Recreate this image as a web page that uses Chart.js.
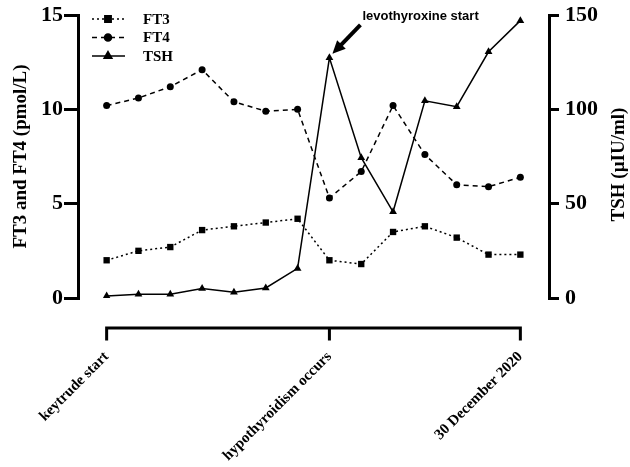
<!DOCTYPE html>
<html>
<head>
<meta charset="utf-8">
<script src="https://cdn.jsdelivr.net/npm/chart.js@4/dist/chart.umd.min.js"></script>
<style>
  body { margin: 0; background: #fff; }
  canvas { display: block; }
</style>
</head>
<body>
<canvas id="thyroidChart" width="630" height="467"></canvas>
<script>
// measurements over time (14 visits)
const ft3 = [2.0, 2.5, 2.7, 3.6, 3.8, 4.0, 4.2, 2.0, 1.8, 3.5, 3.8, 3.2, 2.3, 2.3];
const ft4 = [10.2, 10.6, 11.2, 12.1, 10.4, 9.9, 10.0, 5.3, 6.7, 10.2, 7.6, 6.0, 5.9, 6.4];
const tsh = [1, 2, 2, 5, 3, 5.3, 15.7, 127.3, 74.4, 45.7, 104.5, 101.4, 130.5, 147];

// which visits get a label on the time axis
const eventIndex = [0, 7, 13];
const eventLabels = ['keytrude start', 'hypothyroidism occurs', '30 December 2020'];
const leftTicks = [0, 5, 10, 15];
const rightTicks = [0, 50, 100, 150];
const annotationIndex = 7;
const annotationText = 'levothyroxine start';

const serif = '"Liberation Serif", "Times New Roman", serif';
const sans = '"Liberation Sans", Arial, sans-serif';

function toPoints(arr) {
    return arr.map((v, i) => ({ x: i, y: v }));
}

const drawPoint = (Chart.helpers && Chart.helpers.drawPoint) ? Chart.helpers.drawPoint : null;

const extrasPlugin = {
    id: 'extras',
    afterDraw(chart) {
        const ctx = chart.ctx;
        const xs = chart.scales.x;
        const area = chart.chartArea;

        // time axis bracket, offset below the plot
        const yLine = area.bottom + 30;
        ctx.save();
        ctx.strokeStyle = '#000';
        ctx.lineWidth = 3;
        ctx.lineCap = 'square';
        ctx.beginPath();
        ctx.moveTo(xs.getPixelForValue(eventIndex[0]), yLine);
        ctx.lineTo(xs.getPixelForValue(eventIndex[eventIndex.length - 1]), yLine);
        eventIndex.forEach(i => {
            const px = xs.getPixelForValue(i);
            ctx.moveTo(px, yLine);
            ctx.lineTo(px, yLine + 11);
        });
        ctx.stroke();
        ctx.restore();

        // right axis title, reading bottom to top
        const y2 = chart.scales.y2;
        ctx.save();
        ctx.translate(y2.right - 11, (area.top + area.bottom) / 2 + 8);
        ctx.rotate(-Math.PI / 2);
        ctx.font = 'bold 19px ' + serif;
        ctx.fillStyle = '#000';
        ctx.textAlign = 'center';
        ctx.textBaseline = 'middle';
        ctx.fillText('TSH (\u00b5IU/ml)', 0, 0);
        ctx.restore();

        // legend
        ctx.save();
        chart.data.datasets.forEach((ds, i) => {
            const ly = area.top + 4 + i * 18.5;
            const lx = area.left + 14;
            ctx.strokeStyle = '#000';
            ctx.lineWidth = 1.5;
            ctx.setLineDash(ds.borderDash || []);
            ctx.beginPath();
            ctx.moveTo(lx, ly);
            ctx.lineTo(lx + 33, ly);
            ctx.stroke();
            ctx.setLineDash([]);
            if (drawPoint) {
                ctx.fillStyle = '#000';
                drawPoint(ctx, { pointStyle: ds.pointStyle, radius: ds.pointRadius, borderWidth: 1 }, lx + 16, ly);
            }
            ctx.font = 'bold 15px ' + serif;
            ctx.fillStyle = '#000';
            ctx.textAlign = 'left';
            ctx.textBaseline = 'middle';
            ctx.fillText(ds.label, lx + 51, ly + 1);
        });
        ctx.restore();

        // levothyroxine annotation, anchored to the TSH point
        const y2s = chart.scales.y2;
        const px = xs.getPixelForValue(annotationIndex);
        const py = y2s.getPixelForValue(tsh[annotationIndex]);
        ctx.save();
        ctx.font = 'bold 13px ' + sans;
        ctx.fillStyle = '#000';
        ctx.textAlign = 'left';
        ctx.textBaseline = 'middle';
        ctx.fillText(annotationText, px + 33, py - 41);

        const tipX = px + 3, tipY = py - 4;
        const tailX = px + 31, tailY = py - 33;
        const ang = Math.atan2(tipY - tailY, tipX - tailX);
        ctx.strokeStyle = '#000';
        ctx.lineWidth = 4;
        ctx.beginPath();
        ctx.moveTo(tailX, tailY);
        ctx.lineTo(tipX - 8 * Math.cos(ang), tipY - 8 * Math.sin(ang));
        ctx.stroke();
        ctx.beginPath();
        ctx.moveTo(tipX, tipY);
        ctx.lineTo(tipX - 13 * Math.cos(ang) + 6 * Math.sin(ang), tipY - 13 * Math.sin(ang) - 6 * Math.cos(ang));
        ctx.lineTo(tipX - 13 * Math.cos(ang) - 6 * Math.sin(ang), tipY - 13 * Math.sin(ang) + 6 * Math.cos(ang));
        ctx.closePath();
        ctx.fill();
        ctx.restore();
    }
};

const ctx = document.getElementById('thyroidChart').getContext('2d');
new Chart(ctx, {
    type: 'line',
    data: {
        datasets: [
            {
                label: 'FT3',
                data: toPoints(ft3),
                yAxisID: 'y',
                borderColor: '#000',
                backgroundColor: '#000',
                borderWidth: 1.5,
                borderDash: [2, 3],
                pointStyle: 'rect',
                pointRadius: 4.5,
                pointBorderWidth: 0
            },
            {
                label: 'FT4',
                data: toPoints(ft4),
                yAxisID: 'y',
                borderColor: '#000',
                backgroundColor: '#000',
                borderWidth: 1.5,
                borderDash: [5, 4],
                pointStyle: 'circle',
                pointRadius: 3.5,
                pointBorderWidth: 0
            },
            {
                label: 'TSH',
                data: toPoints(tsh),
                yAxisID: 'y2',
                borderColor: '#000',
                backgroundColor: '#000',
                borderWidth: 1.5,
                pointStyle: 'triangle',
                pointRadius: 4.5,
                pointBorderWidth: 0
            }
        ]
    },
    options: {
        responsive: false,
        animation: false,
        layout: { padding: { top: 15, left: 0, right: 0, bottom: 0 } },
        plugins: {
            legend: { display: false },
            tooltip: { enabled: false }
        },
        scales: {
            x: {
                type: 'linear',
                min: -0.9,
                max: ft3.length - 1 + 0.9,
                grid: { display: false, drawTicks: false },
                border: { display: false },
                afterBuildTicks: (scale) => {
                    scale.ticks = eventIndex.map(v => ({ value: v }));
                },
                afterFit: (scale) => {
                    scale.height = 169;
                    scale.paddingLeft = 0;
                    scale.paddingRight = 0;
                },
                ticks: {
                    autoSkip: false,
                    maxRotation: 45,
                    minRotation: 45,
                    padding: 50,
                    color: '#000',
                    font: { family: serif, size: 15, weight: 'bold' },
                    callback: (v) => eventLabels[eventIndex.indexOf(v)]
                }
            },
            y: {
                position: 'left',
                min: 0,
                max: 15,
                afterBuildTicks: (scale) => {
                    scale.ticks = leftTicks.map(v => ({ value: v }));
                },
                afterFit: (scale) => {
                    scale.width = 78;
                    scale.paddingTop = 0;
                    scale.paddingBottom = 0;
                },
                grid: { drawOnChartArea: false, drawTicks: true, tickLength: 14, lineWidth: 3, color: '#000' },
                border: { display: true, width: 3, color: '#000' },
                ticks: {
                    padding: 1,
                    color: '#000',
                    font: { family: serif, size: 22, weight: 'bold' }
                },
                title: {
                    display: true,
                    text: 'FT3 and FT4 (pmol/L)',
                    color: '#000',
                    padding: { top: 10, bottom: 0 },
                    font: { family: serif, size: 19, weight: 'bold' }
                }
            },
            y2: {
                position: 'right',
                min: 0,
                max: 150,
                afterBuildTicks: (scale) => {
                    scale.ticks = rightTicks.map(v => ({ value: v }));
                },
                afterFit: (scale) => {
                    scale.width = 81;
                    scale.paddingTop = 0;
                    scale.paddingBottom = 0;
                },
                grid: { drawOnChartArea: false, drawTicks: true, tickLength: 10, lineWidth: 3, color: '#000' },
                border: { display: true, width: 3, color: '#000' },
                ticks: {
                    padding: 6,
                    color: '#000',
                    font: { family: serif, size: 22, weight: 'bold' }
                }
            }
        }
    },
    plugins: [extrasPlugin]
});
</script>
</body>
</html>
